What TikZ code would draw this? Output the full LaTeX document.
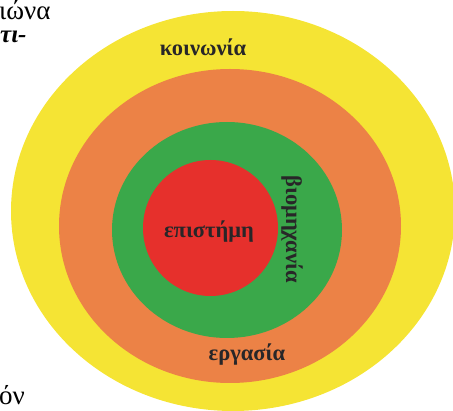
\documentclass[tikz,border=0pt]{standalone}
\usepackage{fontspec}
\setmainfont{Liberation Serif}
\definecolor{cyellow}{RGB}{245,228,52}
\definecolor{corange}{RGB}{236,130,70}
\definecolor{cgreen}{RGB}{58,168,74}
\definecolor{cred}{RGB}{230,48,44}
\definecolor{ctext}{RGB}{40,38,40}
\begin{document}
\begin{tikzpicture}[x=1pt,y=-1pt,
  lbl/.style={text=ctext,font=\bfseries\fontsize{22.5}{26}\selectfont,inner sep=0pt},
  frag/.style={text=black,font=\fontsize{27}{30}\selectfont,inner sep=0pt,anchor=base west}]
\useasboundingbox (0,0) rectangle (453,411);
\fill[cyellow] (233,211) ellipse [x radius=222pt, y radius=200pt];
\fill[corange] (230,226) ellipse [x radius=171pt, y radius=157pt];
\fill[cgreen] (227,230) ellipse [x radius=115pt, y radius=108pt];
\fill[cred] (210.5,228) ellipse [x radius=67.5pt, y radius=68pt];
\node[lbl] (soc) at (203,47) {κοινωνία};
\node[lbl] (work) at (247,355) {εργασία};
\node[lbl] (sci) at (209,232) {επιστήμη};
\node[lbl,rotate=-90] (ind) at (292,229) {βιομηχανία};
\node[frag] (f1) at (-1,20) {ιώνα};
\node[frag,font=\bfseries\itshape\fontsize{25}{28}\selectfont] (f2) at (0,43) {τι-};
\node[frag] (f3) at (-1,405) {όν};
\end{tikzpicture}
\end{document}
